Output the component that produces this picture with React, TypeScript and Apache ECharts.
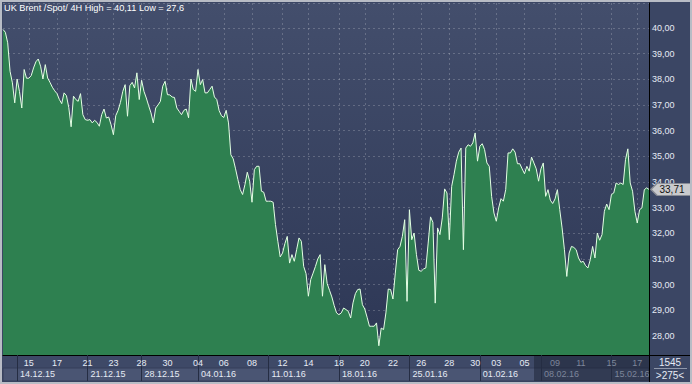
import React, { useEffect, useRef } from "react";
import * as echarts from "echarts";

// 4H closes, bar by bar
const weekPrev = [39.94, 39.83, 39.42, 38.31, 37.86, 37.08];
const week1412 = [38.01, 37.53, 36.88, 38.38, 38.04, 38.04, 38.14, 38.44, 38.68, 38.79, 38.51, 38.01, 38.57, 38.05, 37.88, 37.69, 37.55, 37.44, 37.21, 37.05, 37.47, 37.36, 36.9, 36.15, 37.34, 37.21, 37.14, 37.44, 36.62, 36.43];
const week2112 = [36.4, 36.43, 36.3, 36.4, 36.32, 36.17, 36.62, 36.84, 36.49, 36.53, 36.23, 35.84, 36.58, 36.79, 37.1, 37.53, 37.79, 36.56, 37.75, 37.88, 37.66, 38.25, 37.21];
const week2812 = [37.96, 37.53, 37.27, 36.97, 36.69, 36.3, 36.88, 37.0, 37.14, 37.73, 37.92, 37.4, 37.39, 37.31, 37.29, 36.88, 36.75, 36.62, 36.79, 36.84, 36.5, 38.01, 37.6, 37.53];
const week0401 = [38.38, 37.79, 37.99, 37.47, 37.47, 37.6, 37.73, 37.31, 37.21, 36.78, 36.58, 36.51, 36.79, 36.3, 35.06, 34.9, 34.51, 34.09, 33.7, 33.51, 33.9, 34.38, 34.03, 33.21, 34.48, 34.61, 34.61, 33.64, 33.6, 33.25];
const week1101 = [33.25, 33.25, 33.21, 32.34, 31.69, 31.08, 31.23, 31.6, 31.88, 30.84, 31.17, 30.91, 31.36, 31.82, 31.69, 30.71, 30.43, 29.55, 30.2, 30.45, 30.71, 31.0, 31.17, 29.55, 30.78, 30.04, 29.78, 29.52, 29.18, 28.9];
const week1801 = [28.83, 28.9, 29.09, 29.03, 28.96, 28.7, 29.29, 29.65, 29.81, 29.83, 29.22, 29.05, 28.73, 28.38, 28.38, 28.38, 28.51, 27.62, 28.31, 28.25, 28.9, 29.83, 29.81, 29.44, 30.45, 31.36, 31.49, 31.88, 32.53, 29.35];
const week2501 = [32.92, 31.75, 32.01, 31.17, 30.56, 30.52, 30.61, 30.65, 31.62, 32.64, 32.43, 29.28, 32.21, 31.95, 32.6, 33.73, 33.57, 31.75, 33.83, 34.29, 34.81, 35.16, 35.32, 31.36, 35.32, 35.45, 35.39, 35.52, 35.91, 34.81];
const week0102 = [35.39, 35.49, 35.26, 34.74, 34.61, 33.44, 32.79, 32.47, 32.99, 33.35, 33.25, 33.7, 35.13, 35.13, 35.29, 35.16, 34.71, 34.71, 34.51, 34.32, 34.61, 34.42, 34.97, 34.74, 34.51, 34.03];
const week0802 = [34.51, 34.74, 33.44, 33.7, 33.29, 33.16, 33.34, 33.7, 32.92, 32.21, 31.36, 30.32, 31.23, 31.49, 31.45, 31.36, 31.04, 30.87, 30.91, 30.74, 30.65, 30.97, 31.49, 31.04, 32.01, 31.73, 31.95, 32.86, 33.14, 32.92];
const week1502 = [33.51, 33.57, 33.96, 33.9, 33.96, 33.9, 34.87, 35.29, 33.96, 33.64, 32.86, 32.4, 32.92, 32.99, 33.7, 33.77, 33.71];

// day tick labels (bar index where each appears)
const dayTickIdx = [11, 23, 36, 47, 59, 70, 83, 94, 106, 119, 130, 143, 154, 166, 178, 190, 201, 210, 222, 235, 246, 259, 270];
const dayTickText = ["15", "17", "21", "23", "28", "30", "04", "06", "08", "12", "14", "18", "20", "22", "26", "28", "30", "03", "05", "09", "11", "15", "17"];
// week start labels
const weekIdx = [6, 36, 59, 83, 113, 143, 173, 203, 229, 259];
const weekText = ["14.12.15", "21.12.15", "28.12.15", "04.01.16", "11.01.16", "18.01.16", "25.01.16", "01.02.16", "08.02.16", "15.02.16"];
const dimFrom = 226;

const titleText = "UK Brent /Spot/ 4H High = 40,11 Low = 27,6";
const lastPriceText = "33,71";
const cornerTop = "1545";
const cornerBottom = ">275<";

const closes = [
  ...weekPrev, ...week1412, ...week2112, ...week2812, ...week0401, ...week1101,
  ...week1801, ...week2501, ...week0102, ...week0802, ...week1502,
];
const categories = closes.map((_, i) => String(i));

const FONT = "'Liberation Sans', Arial, sans-serif";
const FS = 9;
const LIGHT = "#e6ebf5";
const DIM = "#7d869b";
const GRIDC = "rgba(255,255,255,0.2)";

export default function App() {
  const ref = useRef<HTMLDivElement>(null);
  useEffect(() => {
    if (!ref.current) return;
    const chart = echarts.init(ref.current, undefined, { renderer: "svg" });
    const dayMap = new Map<number, string>(dayTickIdx.map((d, k) => [d, dayTickText[k]]));
    const weekMap = new Map<number, string>(weekIdx.map((d, k) => [d, weekText[k]]));
    const last = closes.length - 1;
    const option: any = {
      animation: false,
      backgroundColor: "#3b4664",
      title: {
        text: titleText,
        left: 4,
        top: 3,
        padding: 0,
        textStyle: { color: "#ffffff", fontSize: 9.2, fontWeight: "normal", fontFamily: FONT },
      },
      grid: {
        left: 3,
        right: 43,
        top: 3,
        bottom: 29,
        show: true,
        borderWidth: 0,
        backgroundColor: new echarts.graphic.LinearGradient(0, 0, 0, 1, [
          { offset: 0, color: "#434e6c" },
          { offset: 1, color: "#2d3755" },
        ]),
      },
      xAxis: [
        {
          type: "category",
          data: categories,
          boundaryGap: false,
          z: 3,
          axisLine: { show: true, lineStyle: { color: "#000000", width: 1 } },
          axisTick: { show: false },
          axisLabel: {
            interval: (i: number) => dayMap.has(i),
            formatter: (v: string) => dayMap.get(Number(v)) ?? "",
            margin: 3,
            fontSize: FS,
            fontFamily: FONT,
            color: (v: string) => (Number(v) >= dimFrom ? DIM : LIGHT),
          },
          splitLine: {
            show: true,
            interval: (i: number) => dayMap.has(i),
            lineStyle: { color: GRIDC, type: [2, 3], width: 1 },
          },
        },
        {
          type: "category",
          data: categories,
          boundaryGap: false,
          position: "bottom",
          z: 3,
          axisLine: { show: false },
          axisTick: {
            show: true,
            interval: (i: number) => weekMap.has(i),
            length: 26,
            lineStyle: { color: "#252d43", width: 1 },
          },
          axisLabel: {
            interval: (i: number) => weekMap.has(i),
            formatter: (v: string) => weekMap.get(Number(v)) ?? "",
            align: "left",
            padding: [0, 0, 0, 3],
            margin: 14,
            fontSize: FS,
            fontFamily: FONT,
            color: (v: string) => (Number(v) >= dimFrom ? DIM : LIGHT),
          },
          splitLine: { show: false },
        },
      ],
      yAxis: {
        type: "value",
        position: "right",
        min: 27.26,
        max: 40.97,
        splitNumber: 14,
        z: 3,
        axisLine: { show: true, lineStyle: { color: "#000000", width: 1 } },
        axisTick: { show: false },
        axisLabel: {
          margin: 3,
          fontSize: FS,
          fontFamily: FONT,
          color: LIGHT,
          showMinLabel: false,
          showMaxLabel: false,
          formatter: (v: number) =>
            Math.abs(v - Math.round(v)) < 1e-6 ? v.toFixed(2).replace(".", ",") : "",
        },
        splitLine: { show: true, lineStyle: { color: GRIDC, type: [2, 3], width: 1 } },
      },
      series: [
        {
          type: "line",
          data: closes,
          xAxisIndex: 0,
          symbol: "none",
          lineStyle: { color: "#e4ffe4", width: 1 },
          areaStyle: { color: "#2e8050", opacity: 1, origin: "start" },
          markPoint: {
            symbol: "path://M0,6 L6,0 L40,0 L40,12 L6,12 Z",
            symbolSize: [40, 12],
            symbolKeepAspect: false,
            silent: true,
            data: [
              {
                coord: [last, closes[last]],
                symbolOffset: [22, 0],
                itemStyle: { color: "#c9cacd", borderColor: "#8a8d95", borderWidth: 1 },
                label: {
                  show: true,
                  position: "inside",
                  offset: [1, 0],
                  formatter: lastPriceText,
                  color: "#111111",
                  fontSize: 10,
                  fontFamily: FONT,
                },
              },
            ],
          },
        },
      ],
      graphic: [
        { type: "rect", z: 1, shape: { x: 3, y: 356, width: 646, height: 12 }, style: { fill: "#3e4967" } },
        { type: "rect", z: 1, shape: { x: 3, y: 368, width: 646, height: 13 }, style: { fill: "#4a5573", stroke: "#353f5a", lineWidth: 1 } },
        { type: "rect", z: 1, shape: { x: 534, y: 356, width: 115, height: 25 }, style: { fill: "rgba(22,28,45,0.45)" } },
        { type: "rect", z: 10, shape: { x: 650, y: 356, width: 41, height: 26 }, style: { fill: "#3b4664" } },
        { type: "line", z: 11, shape: { x1: 649.5, y1: 355, x2: 649.5, y2: 382 }, style: { stroke: "#000000", lineWidth: 1 } },
        { type: "line", z: 11, shape: { x1: 649, y1: 355.5, x2: 692, y2: 355.5 }, style: { stroke: "#000000", lineWidth: 1 } },
        { type: "line", z: 11, shape: { x1: 654, y1: 368.5, x2: 687, y2: 368.5 }, style: { stroke: "#8e96aa", lineWidth: 1 } },
        { type: "text", z: 11, style: { x: 670, y: 362, text: cornerTop, fill: LIGHT, font: `10px ${FONT}`, align: "center", verticalAlign: "middle" } },
        { type: "text", z: 11, style: { x: 670, y: 375, text: cornerBottom, fill: LIGHT, font: `10px ${FONT}`, align: "center", verticalAlign: "middle" } },
        { type: "rect", z: 12, shape: { x: 1, y: 1, width: 690, height: 382 }, style: { fill: "none", stroke: "#b8bcc5", lineWidth: 2 } },
      ],
    };
    chart.setOption(option);
    return () => chart.dispose();
  }, []);
  return (
    <div
      ref={ref}
      style={{ position: "fixed", left: 0, top: 0, width: 692, height: 384 }}
    />
  );
}
